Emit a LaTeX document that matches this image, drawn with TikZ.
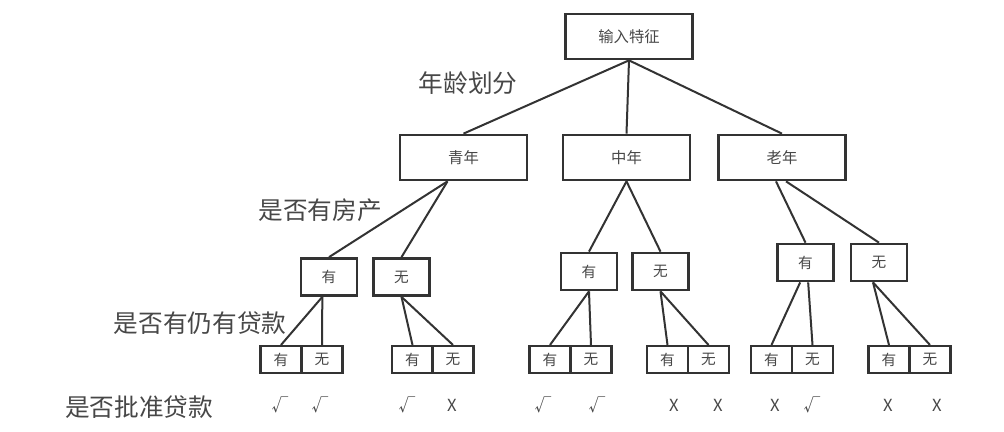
\documentclass[tikz,border=0pt]{standalone}
\usepackage{fontspec}
\newfontfamily\cjk{Noto Sans CJK SC}
\usetikzlibrary{positioning}

\begin{document}
\begin{tikzpicture}[x=0.75pt,y=-0.75pt,
	agebox/.style={draw=edge,line width=1.8pt,minimum width=95pt,minimum height=34pt,inner sep=0pt,font=\cjk\fontsize{11.5}{12}\selectfont,text=txt},
	housebox/.style={draw=edge,line width=1.8pt,minimum width=42pt,minimum height=28pt,inner sep=0pt,font=\cjk\fontsize{11}{12}\selectfont,text=txt},
	leafbox/.style={draw=edge,line width=1.8pt,minimum width=31pt,minimum height=20pt,inner sep=0pt,font=\cjk\fontsize{11}{12}\selectfont,text=txt},
	bigtext/.style={font=\cjk\fontsize{18.5}{20}\selectfont,text=txt,inner sep=0pt},
	verdict/.style={font=\cjk\fontsize{12.5}{13}\selectfont,text=txt,inner sep=0pt}]
		\definecolor{edge}{rgb}{0.2,0.2,0.2}
		\definecolor{txt}{rgb}{0.28,0.28,0.28}
		\useasboundingbox (0,0) rectangle (1004,432);

		% root and age groups
		\node[agebox] (root) at (629,36.5) {输入特征};
		\node[agebox] (qn) at (463.5,157.5) {青年};
		\node[agebox] (zn) at (626.5,157.5) {中年};
		\node[agebox] (ln) at (782,157.5) {老年};

		% house yes / no
		\node[housebox] (qy) at (329,277) {有};
		\node[housebox] (qw) at (401.5,277) {无};
		\node[housebox] (zy) at (589,271.5) {有};
		\node[housebox] (zw) at (660.5,271.5) {无};
		\node[housebox] (ly) at (805.5,262.5) {有};
		\node[housebox] (lw) at (879,262.5) {无};

		% loan yes / no
		\node[leafbox] (a1) at (281,359.5) {有};
		\node[leafbox] (a2) at (322,359.5) {无};
		\node[leafbox] (b1) at (412.5,359.5) {有};
		\node[leafbox] (b2) at (453,359.5) {无};
		\node[leafbox] (c1) at (550,359.5) {有};
		\node[leafbox] (c2) at (591,359.5) {无};
		\node[leafbox] (d1) at (667.5,359.5) {有};
		\node[leafbox] (d2) at (708.5,359.5) {无};
		\node[leafbox] (e1) at (771.5,359.5) {有};
		\node[leafbox] (e2) at (812.5,359.5) {无};
		\node[leafbox] (f1) at (889,359.5) {有};
		\node[leafbox] (f2) at (930,359.5) {无};

		% row labels
		\node[bigtext] (agesplit) at (468,83) {年龄划分};
		\node[bigtext] (housesplit) at (320,210) {是否有房产};
		\node[bigtext] (loansplit) at (200,323) {是否有仍有贷款};
		\node[bigtext] (approve) at (139,407) {是否批准贷款};

		% verdicts
		\foreach \x/\s [count=\i] in {280/√,320/√,407/√,452/X,543/√,597/√,674/X,718/X,775/X,812/√,888/X,937/X}
			\node[verdict] (v\i) at (\x,405) {\s};

		% connectors
		\begin{scope}[draw=edge,line width=1.5pt]
		\draw (root.south) -- (qn.north);
		\draw (root.south) -- (zn.north);
		\draw (root.south) -- (ln.north);
		\draw ([xshift=-12pt]qn.south) -- (qy.north);
		\draw ([xshift=-12pt]qn.south) -- (qw.north);
		\draw (zn.south) -- (zy.north);
		\draw (zn.south) -- (zw.north);
		\draw ([xshift=-4.5pt]ln.south) -- (ly.north);
		\draw ([xshift=3pt]ln.south) -- (lw.north);
		\draw ([xshift=-5pt]qy.south) -- (a1.north);
		\draw ([xshift=-5pt]qy.south) -- (a2.north);
		\draw (qw.south) -- (b1.north);
		\draw (qw.south) -- (b2.north);
		\draw (zy.south) -- (c1.north);
		\draw (zy.south) -- (c2.north);
		\draw (zw.south) -- (d1.north);
		\draw (zw.south) -- (d2.north);
		\draw ([xshift=-4pt]ly.south) -- (e1.north);
		\draw ([xshift=2pt]ly.south) -- (e2.north);
		\draw ([xshift=-4.5pt]lw.south) -- (f1.north);
		\draw ([xshift=-4.5pt]lw.south) -- (f2.north);
		\end{scope}
	\end{tikzpicture}
\end{document}
